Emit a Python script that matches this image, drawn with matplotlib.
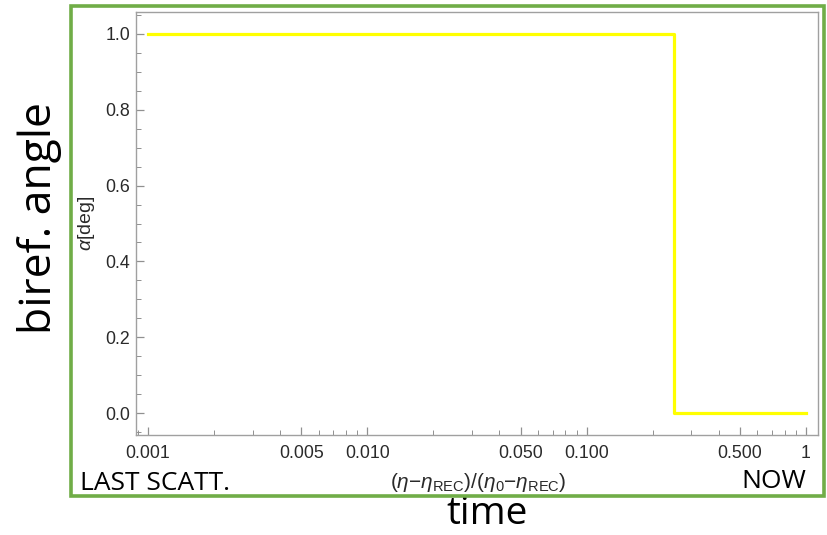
import matplotlib
matplotlib.use("Agg")
import matplotlib.pyplot as plt
from matplotlib.patches import Rectangle
from matplotlib.ticker import FixedLocator, FixedFormatter

# data
t_breaks = [0.001, 0.25, 1.0]
alpha_vals = [1.0, 0.0, 0.0]
x_major = [0.001, 0.005, 0.010, 0.050, 0.100, 0.500, 1.0]
x_major_labels = ["0.001", "0.005", "0.010", "0.050", "0.100", "0.500", "1"]
y_major = [0.0, 0.2, 0.4, 0.6, 0.8, 1.0]
y_major_labels = ["0.0", "0.2", "0.4", "0.6", "0.8", "1.0"]

plt.rcParams['mathtext.fontset'] = 'custom'
plt.rcParams['mathtext.rm'] = 'Liberation Sans'
plt.rcParams['mathtext.it'] = 'Liberation Sans:italic'

fig = plt.figure(figsize=(8.28, 5.35), dpi=100)
W, H = 828, 535
ax = fig.add_axes([136 / W, 1 - 435 / H, (818 - 136) / W, (435 - 12) / H])

ax.step(t_breaks, alpha_vals, where='post', color='#FFFF00', lw=2.3)
ax.set_xscale('log')
ax.set_xlim(10 ** -3.055, 10 ** 0.055)
ax.set_ylim(-0.058, 1.058)

ax.xaxis.set_major_locator(FixedLocator(x_major))
ax.xaxis.set_major_formatter(FixedFormatter(x_major_labels))
minor = []
for dec in [1e-4, 1e-3, 1e-2, 1e-1]:
    for k in range(1, 10):
        v = k * dec
        if all(abs(v - m) > 1e-12 for m in x_major):
            minor.append(v)
ax.xaxis.set_minor_locator(FixedLocator(minor))
ax.xaxis.set_minor_formatter(FixedFormatter([""] * len(minor)))

ax.yaxis.set_major_locator(FixedLocator(y_major))
ax.yaxis.set_major_formatter(FixedFormatter(y_major_labels))
ax.yaxis.set_minor_locator(FixedLocator([i * 0.05 for i in range(-1, 22)]))

for s in ax.spines.values():
    s.set_color('#a0a0a0')
    s.set_linewidth(1.0)
ax.tick_params(which='both', direction='in', color='#909090', labelcolor='#2a2a2a',
               labelsize=12.8)
ax.tick_params(which='major', length=6, width=0.9)
ax.tick_params(which='minor', length=3.5, width=0.7)
ax.tick_params(axis='x', pad=7)
ax.tick_params(axis='y', pad=4)
for lab in ax.get_xticklabels() + ax.get_yticklabels():
    lab.set_family('Liberation Sans')

ax.set_ylabel(r'$\alpha$[deg]', fontsize=14, color='#2a2a2a', family='Liberation Sans',
              labelpad=6)
fig.text(478 / W, 1 - 483 / H, r'$(\eta\mathrm{-}\eta_{\mathrm{REC}})/(\eta_0\mathrm{-}\eta_{\mathrm{REC}})$',
         fontsize=15, color='#2a2a2a', ha='center', va='center')

# annotations
fig.text(80 / W, 1 - 484 / H, 'LAST SCATT.', fontsize=19, family='Open Sans',
         ha='left', va='center', color='black')
fig.text(806 / W, 1 - 482 / H, 'NOW', fontsize=19, family='Open Sans',
         ha='right', va='center', color='black')
fig.text(40 / W, 1 - 218 / H, 'biref. angle', fontsize=32, family='Open Sans',
         rotation=90, ha='center', va='center', color='black')
fig.text(487 / W, 1 - 514 / H, 'time', fontsize=28, family='Open Sans',
         ha='center', va='center', color='black')

fig.patches.append(Rectangle((71 / W, 1 - 496 / H), (824 - 71) / W, (496 - 6) / H,
                             transform=fig.transFigure, fill=False,
                             edgecolor='#70AD47', lw=2.6, zorder=10))

fig.savefig('out.png', dpi=100)
